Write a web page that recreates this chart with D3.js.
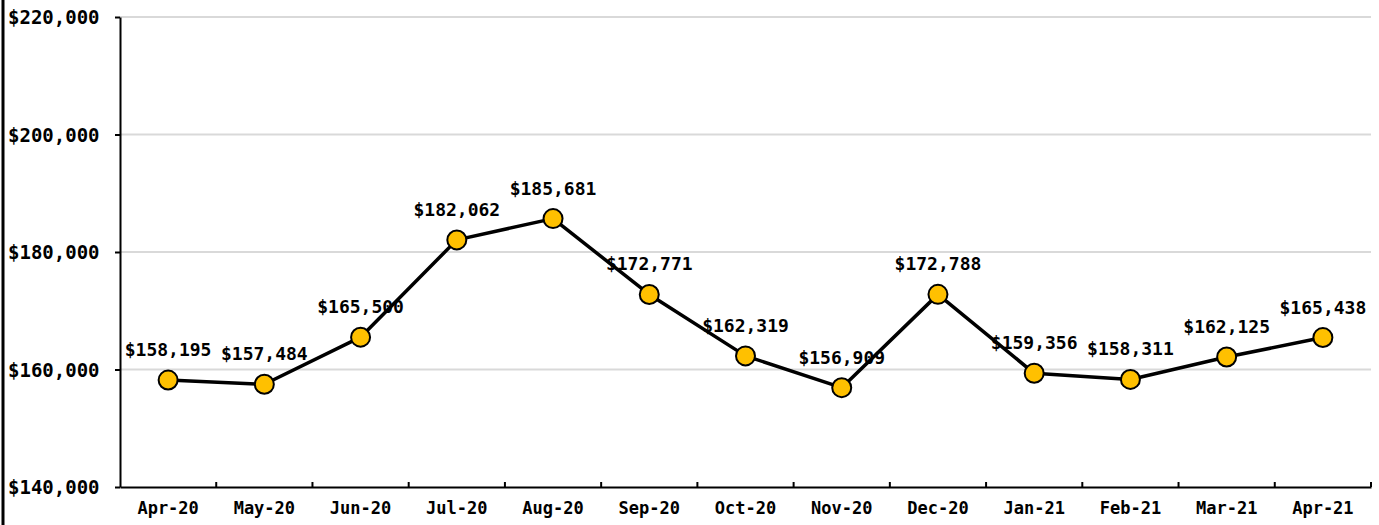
<!DOCTYPE html>
<html>
<head>
<meta charset="utf-8">
<script src="https://cdn.jsdelivr.net/npm/d3@7"></script>
<style>
  body { margin: 0; background: #fff; }
  svg { display: block; font-family: 'DejaVu Sans Mono', monospace; font-weight: bold; }
</style>
</head>
<body>
<svg id="chart" width="1379" height="525"></svg>
<script>
const months = ['Apr-20', 'May-20', 'Jun-20', 'Jul-20', 'Aug-20', 'Sep-20', 'Oct-20',
  'Nov-20', 'Dec-20', 'Jan-21', 'Feb-21', 'Mar-21', 'Apr-21']
const values = [158195, 157484, 165500, 182062, 185681, 172771, 162319,
  156909, 172788, 159356, 158311, 162125, 165438]
const yTicks = [140000, 160000, 180000, 200000, 220000]

const svg = d3.select('#chart')
const plotLeft = 120
const plotRight = 1371
const plotTop = 17
const plotBottom = 487

const x = d3.scaleBand().domain(months).range([plotLeft, plotRight])
const y = d3.scaleLinear().domain([140000, 220000]).range([plotBottom, plotTop])
const fmt = d3.format('$,')

// left frame border
svg.append('line')
  .attr('x1', 3).attr('x2', 3)
  .attr('y1', 0).attr('y2', 525)
  .attr('stroke', '#000')
  .attr('stroke-width', 3)

// gridlines
svg.append('g')
  .selectAll('line')
  .data(yTicks.slice(1))
  .join('line')
  .attr('x1', plotLeft).attr('x2', plotRight)
  .attr('y1', d => y(d)).attr('y2', d => y(d))
  .attr('stroke', '#d9d9d9')
  .attr('stroke-width', 2)

// y axis
const yAxis = svg.append('g')
  .attr('transform', `translate(${plotLeft},0)`)
  .call(d3.axisLeft(y).tickValues(yTicks).tickSize(5).tickSizeOuter(0).tickFormat(''))
yAxis.select('.domain').attr('stroke', '#000').attr('stroke-width', 2)
yAxis.selectAll('.tick line').attr('stroke', '#000').attr('stroke-width', 2)

svg.append('g')
  .selectAll('text')
  .data(yTicks)
  .join('text')
  .attr('x', 8)
  .attr('y', d => y(d) + 7)
  .attr('fill', '#000')
  .style('font-size', '19px')
  .text(d => fmt(d))

// x axis
const xAxis = svg.append('g')
  .attr('transform', `translate(0,${plotBottom})`)
  .call(d3.axisBottom(x).tickSize(0).tickPadding(15))
xAxis.select('.domain').attr('stroke', '#000').attr('stroke-width', 2)
xAxis.selectAll('text')
  .attr('fill', '#000')
  .style('font-size', '17px')
  .style('font-family', "'DejaVu Sans Mono', monospace")
  .style('font-weight', 'bold')

// tick marks between categories
const bounds = months.map(m => x(m) + x.bandwidth())
svg.append('g')
  .selectAll('line')
  .data(bounds)
  .join('line')
  .attr('x1', d => d).attr('x2', d => d)
  .attr('y1', plotBottom).attr('y2', plotBottom - 5)
  .attr('stroke', '#000')
  .attr('stroke-width', 2)

const cx = d => x(d.month) + x.bandwidth() / 2
const pts = months.map((m, i) => ({ month: m, value: values[i] }))

// line
svg.append('path')
  .datum(pts)
  .attr('fill', 'none')
  .attr('stroke', '#000')
  .attr('stroke-width', 3.5)
  .attr('stroke-linejoin', 'round')
  .attr('d', d3.line().x(cx).y(d => y(d.value)))

// markers
svg.append('g')
  .selectAll('circle')
  .data(pts)
  .join('circle')
  .attr('cx', cx)
  .attr('cy', d => y(d.value))
  .attr('r', 9.5)
  .attr('fill', '#FFC000')
  .attr('stroke', '#000')
  .attr('stroke-width', 2)

// data labels
svg.append('g')
  .selectAll('text')
  .data(pts)
  .join('text')
  .attr('x', cx)
  .attr('y', d => y(d.value) - 24)
  .attr('text-anchor', 'middle')
  .attr('fill', '#000')
  .style('font-size', '18px')
  .text(d => fmt(d.value))
</script>
</body>
</html>
